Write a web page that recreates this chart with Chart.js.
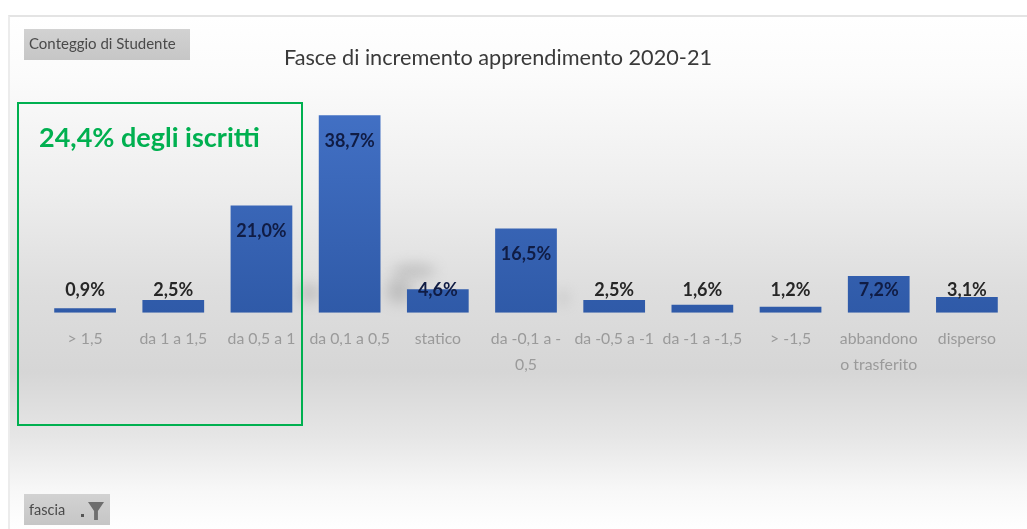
<!DOCTYPE html>
<html><head><meta charset="utf-8">
<script src="https://cdn.jsdelivr.net/npm/chart.js@4"></script>
<style>
html,body{margin:0;padding:0;background:#fff;width:1027px;height:529px;overflow:hidden}
#panel{position:absolute;left:8px;top:15px;width:1019px;height:514px;border-left:2px solid #ececec;border-top:2px solid #e4e4e4;box-sizing:border-box;
background:linear-gradient(180deg,#fff 0,#fbfbfb 60px,#eeeeee 170px,#dedede 270px,#d6d6d6 355px,#e6e6e6 420px,#f8f8f8 475px,#fff 514px)}
.smudge{position:absolute;background:#8f8f8f;filter:blur(7px);opacity:.4;border-radius:50%}
#wrap{position:absolute;left:0;top:0;width:1027px;height:529px}
canvas{position:absolute;left:0;top:0;filter:blur(.45px)}
.btn{position:absolute;background:linear-gradient(180deg,#d2d2d2,#c6c6c6);color:#4a4a4a;font:15px Lato,sans-serif;filter:blur(.4px);white-space:nowrap;box-sizing:border-box;padding-left:5px}
#box{position:absolute;left:17px;top:102px;width:286px;height:324px;border:2px solid #00b050;box-sizing:border-box}
#boxtext{position:absolute;left:39px;top:121px;font:bold 27px/32px Lato,sans-serif;color:#00b050;white-space:nowrap}
#funnel{position:absolute;left:88px;top:502px;width:16px;height:18px;background:#6e6e6e;clip-path:polygon(0 0,100% 0,62% 50%,62% 100%,38% 100%,38% 50%);filter:blur(.5px)}
#dot{position:absolute;left:81px;top:514px;width:3px;height:3px;background:#555}
</style></head><body>
<div id="panel"></div>
<div class="smudge" style="left:298px;top:284px;width:22px;height:18px"></div>
<div class="smudge" style="left:392px;top:264px;width:44px;height:14px"></div>
<div class="smudge" style="left:386px;top:278px;width:26px;height:26px"></div>
<div class="smudge" style="left:558px;top:290px;width:10px;height:16px;opacity:.3"></div>
<div id="wrap"><canvas id="c" width="1027" height="529"></canvas></div>
<div class="btn" style="left:24px;top:29px;width:166px;height:31px;line-height:29px">Conteggio di Studente</div>
<div class="btn" style="left:24px;top:494px;width:86px;height:31px;line-height:31px;font-size:14.5px">fascia</div>
<div id="dot"></div><div id="funnel"></div>
<div id="box"></div><div id="boxtext">24,4% degli iscritti</div>
<script>
const titleText = 'Fasce di incremento apprendimento 2020-21';
const categories = ['> 1,5','da 1 a 1,5','da 0,5 a 1','da 0,1 a 0,5','statico',['da -0,1 a -','0,5'],'da -0,5 a -1','da -1 a -1,5','> -1,5',['abbandono','o trasferito'],'disperso'];
const values = [0.9,2.5,21.0,38.7,4.6,16.5,2.5,1.6,1.2,7.2,3.1];
const axisMax = 45;

const valueLabels = {
  id:'valueLabels',
  afterDatasetsDraw(chart){
    const {ctx,scales:{y}} = chart;
    const base = y.getPixelForValue(0);
    ctx.save();
    ctx.font = 'bold 18px Lato, sans-serif';
    ctx.textAlign = 'center';
    ctx.textBaseline = 'middle';
    chart.getDatasetMeta(0).data.forEach((bar,i)=>{
      const py = Math.min(bar.y + 26, base - 23);
      ctx.fillStyle = values[i] > 4 ? '#101c44' : '#262626';
      ctx.fillText(values[i].toFixed(1).replace('.',',') + '%', bar.x, py);
    });
    ctx.restore();
  }
};

new Chart(document.getElementById('c'),{
  type:'bar',
  data:{labels:categories,datasets:[{
    data:values,
    barPercentage:0.7,
    categoryPercentage:1,
    backgroundColor(ctx){
      const a = ctx.chart.chartArea;
      if(!a) return '#3562b4';
      const g = ctx.chart.ctx.createLinearGradient(0,a.top+30,0,a.bottom);
      g.addColorStop(0,'#4270c4');
      g.addColorStop(1,'#2f5aa8');
      return g;
    }
  }]},
  options:{
    responsive:false,
    animation:false,
    layout:{padding:{left:-15,right:16,top:0,bottom:146}},
    plugins:{
      legend:{display:false},
      tooltip:{enabled:false},
      title:{display:true,text:titleText,color:'#3a3a3a',
        font:{family:'Lato, sans-serif',size:21.7,weight:'normal',lineHeight:1.2},
        padding:{top:45,bottom:12}}
    },
    scales:{
      x:{
        grid:{display:false},
        border:{display:false},
        ticks:{color:'#9a9a9a',font:{family:'Lato, sans-serif',size:15.8,lineHeight:1.65},maxRotation:0,autoSkip:false,padding:5}
      },
      y:{
        min:0,max:axisMax,
        grid:{display:false},border:{display:false},
        ticks:{display:false},
        afterFit(s){s.width=56;}
      }
    }
  },
  plugins:[valueLabels]
});
</script>
</body></html>
